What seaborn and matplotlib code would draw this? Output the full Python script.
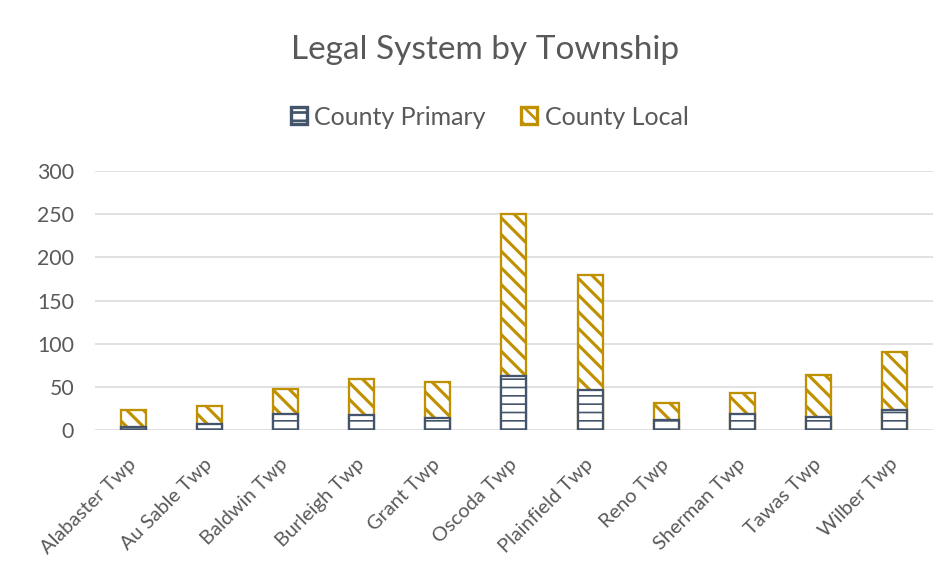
import matplotlib
matplotlib.use('Agg')
import matplotlib.pyplot as plt
import seaborn as sns
import pandas as pd

townships = ['Alabaster Twp', 'Au Sable Twp', 'Baldwin Twp', 'Burleigh Twp', 'Grant Twp',
             'Oscoda Twp', 'Plainfield Twp', 'Reno Twp', 'Sherman Twp', 'Tawas Twp', 'Wilber Twp']
county_primary = [4, 7, 18, 17, 14, 62, 46, 11, 19, 15, 23]
county_local = [19, 21, 29, 42, 42, 188, 134, 20, 24, 49, 67]

df = pd.DataFrame({'Township': townships, 'County Primary': county_primary, 'County Local': county_local})
df['Total'] = df['County Primary'] + df['County Local']

sns.set_style('white')
plt.rcParams['font.family'] = ['Lato', 'DejaVu Sans']
plt.rcParams['hatch.linewidth'] = 1.3

navy = '#44546A'
gold = '#BF9000'
txt = '#595959'

fig = plt.figure(figsize=(951 / 150, 577 / 150), dpi=150)
ax = fig.add_axes([0.0999, 0.2548, 0.881, 0.4488])

# local sits on top, so draw the totals first and cover the bottom part with primary
sns.barplot(data=df, x='Township', y='Total', color='white', saturation=1,
            edgecolor=gold, linewidth=1.1, hatch='\\\\\\', width=0.33, ax=ax,
            label='County Local')
n_local = len(ax.patches)
sns.barplot(data=df, x='Township', y='County Primary', color='white', saturation=1,
            edgecolor=navy, linewidth=1.1, hatch='---', width=0.33, ax=ax,
            label='County Primary')
for i, p in enumerate(ax.patches):
    if hasattr(p, 'set_hatch_linewidth'):
        p.set_hatch_linewidth(1.5 if i < n_local else 0.8)

ax.set_ylim(0, 300)
ax.set_yticks(range(0, 301, 50))
ax.grid(axis='y', color='#D9D9D9', linewidth=0.75)
ax.set_axisbelow(True)
for s in ax.spines.values():
    s.set_visible(False)
ax.set_xlabel('')
ax.set_ylabel('')
ax.tick_params(axis='y', length=0, labelsize=10.2, labelcolor=txt, pad=10)
ax.tick_params(axis='x', length=0, labelsize=9.6, labelcolor=txt, pad=15)
plt.setp(ax.get_xticklabels(), rotation=45, ha='right', va='center', rotation_mode='anchor')

handles, labels = ax.get_legend_handles_labels()
order = [labels.index('County Primary'), labels.index('County Local')]
leg = ax.legend([handles[i] for i in order], [labels[i] for i in order],
                loc='center', bbox_to_anchor=(0.471, 1.2085), ncol=2, frameon=False,
                fontsize=12, labelcolor=txt, handlelength=0.65, handleheight=0.65,
                handletextpad=0.3, columnspacing=1.4)
for h in leg.legend_handles:
    h.set_linewidth(1.6)

fig.suptitle('Legal System by Township', x=0.51, y=0.913, va='center', fontsize=16, color=txt)

fig.savefig('out.png', dpi=150)
